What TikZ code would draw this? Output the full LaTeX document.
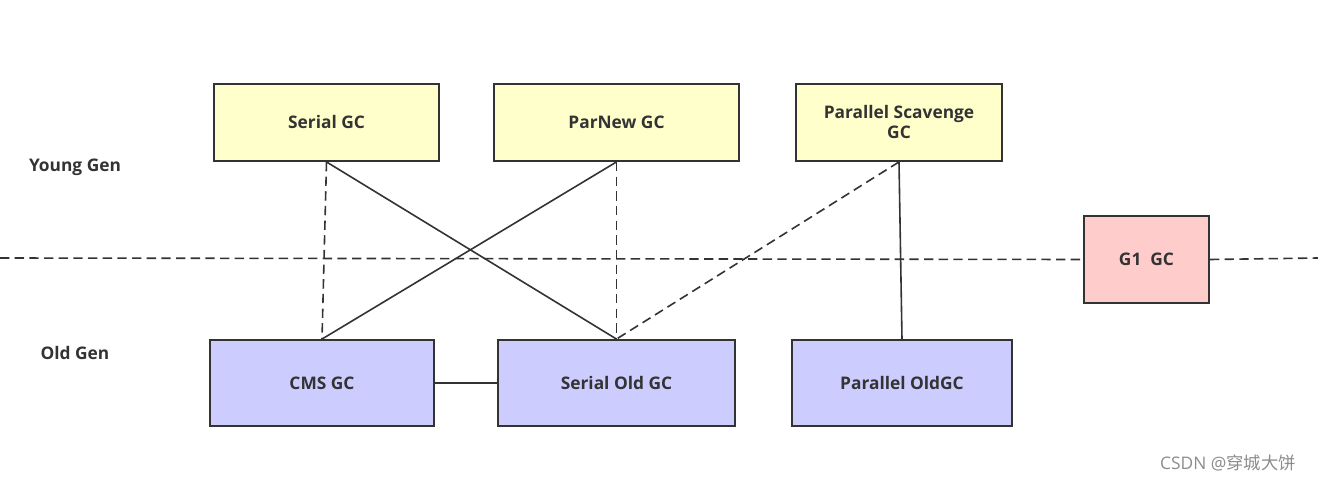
\documentclass[tikz,border=0pt]{standalone}
\usepackage{fontspec}
\setmainfont{Open Sans}
\newfontfamily\cjk{Noto Sans CJK SC}
\begin{document}
\begin{tikzpicture}[x=0.75pt,y=-0.75pt,
 box/.style={draw=black!80,line width=1.4pt,inner sep=0pt,font=\bfseries\fontsize{13}{15}\selectfont,text=black!80,align=center},
 yb/.style={box,fill={rgb,255:red,255;green,255;blue,204}},
 pb/.style={box,fill={rgb,255:red,204;green,204;blue,255}},
 lk/.style={draw=black!80,line width=1.2pt},
 dl/.style={lk,dash pattern=on 7pt off 4pt},
 lab/.style={font=\bfseries\fontsize{13}{15}\selectfont,text=black!80}]
\useasboundingbox (0,0) rectangle (1318,481);
\node[yb,minimum width=225*0.75pt,minimum height=77*0.75pt] (sgc) at (326.5,122.5) {Serial GC};
\node[yb,minimum width=245*0.75pt,minimum height=77*0.75pt] (pn) at (616.5,122.5) {ParNew GC};
\node[yb,minimum width=206*0.75pt,minimum height=77*0.75pt] (ps) at (899,122.5) {Parallel Scavenge\\GC};
\node[pb,minimum width=224*0.75pt,minimum height=86*0.75pt] (cms) at (322,383) {CMS GC};
\node[pb,minimum width=237*0.75pt,minimum height=86*0.75pt] (so) at (616.5,383) {Serial Old GC};
\node[pb,minimum width=220*0.75pt,minimum height=86*0.75pt] (po) at (902,383) {Parallel OldGC};
\node[box,fill={rgb,255:red,255;green,204;blue,204},minimum width=125*0.75pt,minimum height=87*0.75pt] (g1) at (1146.5,259.5) {G1\ \ GC};
\coordinate (l0) at (0,258);
\coordinate (r0) at (1318,258);
\draw[dl] (l0) -- (g1.west);
\draw[dl] (g1.east) -- (r0);
\node[lab] (yg) at (75,167) {Young Gen};
\node[lab] (og) at (75,353) {Old Gen};
\draw[lk] (sgc.south) -- (so.north);
\draw[dl] (sgc.south) -- (cms.north);
\draw[lk] (pn.south) -- (cms.north);
\draw[dl] (pn.south) -- (so.north);
\draw[dl] (ps.south) -- (so.north);
\draw[lk] (ps.south) -- (po.north);
\draw[lk] (cms.east) -- (so.west);
\node[text=black!45,font=\fontsize{13}{15}\selectfont] (wm) at (1228,463) {CSDN @{\cjk 穿城大饼}};
\end{tikzpicture}
\end{document}
